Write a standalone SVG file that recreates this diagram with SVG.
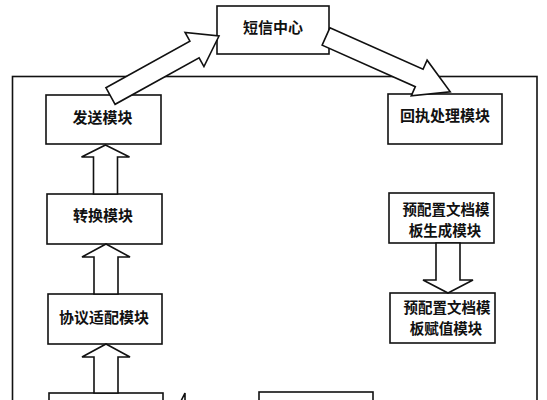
<svg xmlns="http://www.w3.org/2000/svg" width="547" height="400" viewBox="0 0 547 400">
<style>
.box{fill:#fff;stroke:#111;stroke-width:1.6}
.frame{fill:none;stroke:#111;stroke-width:1.6}
.arr{fill:#fff;stroke:#111;stroke-width:1.6;stroke-linejoin:miter}
text{font-family:"Noto Sans CJK SC","Noto Sans",sans-serif;font-size:15px;font-weight:700;fill:#111;text-anchor:middle}
text.two{font-size:14.5px}
</style>
<rect width="547" height="400" fill="#fff"/>
<rect id="frame" class="frame" x="12.5" y="76.5" width="524.5" height="360"/>
<g id="sms-center"><rect class="box" x="217" y="6" width="112" height="48"/><text x="273" y="32.5">短信中心</text></g>
<g id="send"><rect class="box" x="46" y="95" width="115" height="49"/><text x="102.5" y="122.5">发送模块</text></g>
<g id="receipt"><rect class="box" x="388" y="94" width="114" height="50"/><text x="445" y="121">回执处理模块</text></g>
<g id="convert"><rect class="box" x="47" y="194" width="115" height="50"/><text x="103" y="220.5">转换模块</text></g>
<g id="protocol"><rect class="box" x="48" y="294" width="114" height="50"/><text x="104" y="322.5">协议适配模块</text></g>
<g id="tpl-gen"><rect class="box" x="389" y="193" width="105" height="50"/><text class="two" x="446" y="215"><tspan x="446">预配置文档模</tspan><tspan x="445" dy="21.2">板生成模块</tspan></text></g>
<g id="tpl-assign"><rect class="box" x="390" y="293" width="105" height="50"/><text class="two" x="447" y="312.5"><tspan x="447">预配置文档模</tspan><tspan x="446" dy="21.2">板赋值模块</tspan></text></g>
<g id="bottom-left"><rect class="box" x="49" y="393" width="114" height="40"/></g>
<g id="bottom-center"><rect class="box" x="259" y="392" width="114" height="40"/></g>
<g id="connectors">
<polygon class="arr" transform="translate(110.5,96) rotate(-28.95)" points="0,-9.5 96,-9.5 96,-19.5 124,0 96,19.5 96,9.5 0,9.5"/>
<polygon class="arr" transform="translate(326,36.5) rotate(24)" points="0,-9.5 102,-9.5 102,-19.5 136,0 102,19.5 102,9.5 0,9.5"/>
<polygon class="arr" points="105.5,145 129.5,157 117.5,157 117.5,194 93.5,194 93.5,157 81.5,157"/>
<polygon class="arr" points="106,244 130,257 118,257 118,294 94,294 94,257 82,257"/>
<polygon class="arr" points="106,344 130,357 118,357 118,393 94,393 94,357 82,357"/>
<polygon class="arr" points="448,293 473,280 460,280 460,243 436,243 436,280 423,280"/>
<polygon class="arr" points="173,417 185,393 185,405 259,405 259,429 185,429 185,441"/>
</g>
</svg>
